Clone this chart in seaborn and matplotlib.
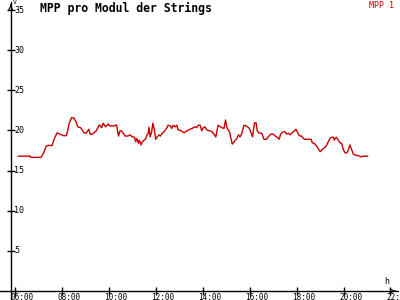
import matplotlib
matplotlib.use("Agg")
import matplotlib.pyplot as plt
import seaborn as sns
import pandas as pd

times = ["06:07","06:38","06:39","07:06","07:12","07:19","07:27","07:34","07:40","07:47",
         "07:54","08:03","08:11","08:18","08:24","08:30","08:35","08:40","08:47","08:56",
         "09:01","09:08","09:12","09:18","09:27","09:35","09:41","09:45","09:51","09:58",
         "10:02","10:08","10:13","10:19","10:24","10:28","10:32","10:36","10:41","10:48",
         "10:54","10:59","11:05","11:08","11:11","11:15","11:17","11:22","11:25","11:30",
         "11:34","11:37","11:40","11:42","11:45","11:49","11:52","11:56","11:59","12:03",
         "12:08","12:11","12:16","12:21","12:27","12:31","12:37","12:40","12:44","12:49",
         "12:53","12:57","13:01","13:07","13:12","13:19","13:27","13:33","13:38","13:44",
         "13:48","13:53","13:57","14:01","14:05","14:10","14:18","14:23","14:28","14:33",
         "14:39","14:48","14:54","14:58","15:02","15:08","15:11","15:15","15:22","15:27",
         "15:31","15:35","15:39","15:45","15:52","15:59","16:02","16:07","16:12","16:16",
         "16:19","16:24","16:31","16:36","16:43","16:47","16:54","17:00","17:05","17:09",
         "17:15","17:19","17:24","17:30","17:34","17:39","17:43","17:47","17:54","17:58",
         "18:03","18:05","18:09","18:13","18:17","18:21","18:37","18:40","18:45","18:51",
         "19:00","19:06","19:13","19:17","19:21","19:25","19:30","19:34","19:36","19:41",
         "19:45","19:51","19:55","19:59","20:04","20:08","20:12","20:16","20:21","20:25",
         "20:29","20:38","20:46","20:50","21:02"]
values = [16.8,16.8,16.65,16.65,17.15,18.05,18.15,18.1,19.0,19.7,
          19.55,19.35,19.35,20.9,21.6,21.55,21.1,20.45,20.35,19.7,
          19.65,20.15,19.5,19.55,19.95,20.7,20.35,20.9,20.45,20.8,
          20.55,20.6,20.55,20.7,19.3,19.95,19.95,19.65,19.3,19.3,
          19.45,19.2,19.15,18.6,19.0,18.4,18.8,18.2,18.6,18.8,
          19.0,19.45,19.65,20.4,19.2,19.85,20.9,20.05,18.9,19.2,
          19.45,19.3,19.65,19.85,20.25,20.65,20.55,20.25,20.65,20.45,
          20.65,20.05,20.05,19.85,19.7,19.95,20.15,20.25,20.45,20.35,
          20.65,20.65,19.95,20.35,20.45,20.05,19.95,19.85,19.55,19.2,
          20.65,20.35,20.25,21.3,20.25,19.85,19.2,18.3,18.7,19.0,
          19.45,19.2,19.55,20.65,20.55,20.25,19.85,19.2,20.95,20.95,
          19.95,19.65,19.65,18.9,18.9,19.2,19.55,19.55,19.3,19.2,
          18.9,19.55,19.8,19.85,19.55,19.65,19.45,19.65,19.95,20.15,
          19.7,19.45,19.3,19.3,19.0,18.9,18.9,18.45,18.4,18.05,
          17.35,17.65,17.9,18.2,18.6,19.0,19.15,19.15,18.8,19.15,
          18.9,18.45,18.4,17.65,17.2,17.2,17.55,18.2,17.55,17.05,
          16.95,16.85,16.7,16.8,16.8]

x_ticks = [6, 8, 10, 12, 14, 16, 18, 20, 22]
x_tick_labels = ["06:00","08:00","10:00","12:00","14:00","16:00","18:00","20:00","22:00"]
y_ticks = [5, 10, 15, 20, 25, 30, 35]
y_tick_labels = ["5","10","15","20","25","30","35"]

hours = [int(t[:2]) + int(t[3:]) / 60 for t in times]
df = pd.DataFrame({"h": hours, "v": values})

sns.set_theme(style="white")
plt.rcParams['font.family'] = ['DejaVu Sans Mono']
plt.rcParams['text.color'] = 'black'

W, H = 400, 300
fig = plt.figure(figsize=(4, 3), dpi=100)
fig.patch.set_facecolor("white")
ax = fig.add_axes([10.7 / W, 9 / H, (398 - 10.7) / W, (291 - 2) / H])
ax.set_facecolor("white")

red = "#c80000"
sns.lineplot(data=df, x="h", y="v", ax=ax, color=red, linewidth=1.0, estimator=None)

ax.set_xlim(5.804, 22.32)
ax.set_ylim(0, 36.0)
for s in ax.spines.values():
    s.set_visible(False)
ax.set_xlabel("")
ax.set_ylabel("")

# axes lines with arrows
ax.plot([-0.03, 1.0], [0, 0], transform=ax.transAxes, color="black", lw=1, clip_on=False)
ax.plot([0, 0], [-0.035, 1.0], transform=ax.transAxes, color="black", lw=1, clip_on=False)
ax.annotate("", xy=(1.0, 0), xytext=(0.985, 0), xycoords="axes fraction",
            arrowprops=dict(arrowstyle="->", color="black", lw=0.8, mutation_scale=7))
ax.annotate("", xy=(0, 1.0), xytext=(0, 0.98), xycoords="axes fraction",
            arrowprops=dict(arrowstyle="->", color="black", lw=0.8, mutation_scale=7))

ax.set_xticks(x_ticks)
ax.set_yticks(y_ticks)
ax.set_xticklabels([])
ax.set_yticklabels([])
ax.tick_params(axis="both", direction="inout", length=6, width=1, colors="black",
               bottom=True, left=True)

for v, lab in zip(y_ticks, y_tick_labels):
    ax.annotate(lab, xy=(0, v), xycoords=("axes fraction", "data"),
                xytext=(3.5, 0), textcoords="offset pixels",
                ha="left", va="center", fontsize=6, color="black")
for t, lab in zip(x_ticks, x_tick_labels):
    ax.annotate(lab, xy=(t, 0), xycoords=("data", "axes fraction"),
                xytext=(-4.5, -1.5), textcoords="offset pixels",
                ha="left", va="top", fontsize=5.5, color="black", annotation_clip=False)

fig.text(15 / W, 1 - 2.5 / H, "V", fontsize=4.5, ha="center", va="center", color="black")
fig.text(386.5 / W, 1 - 282 / H, "h", fontsize=6, ha="center", va="center", color="black")
fig.text(40 / W, 1 - 8 / H, "MPP pro Modul der Strings", fontsize=8.3,
         fontweight="bold", ha="left", va="center", color="black")
fig.text(394 / W, 1 - 5 / H, "MPP 1", fontsize=6, color=red, ha="right", va="center")

fig.savefig("out.png", dpi=100)
